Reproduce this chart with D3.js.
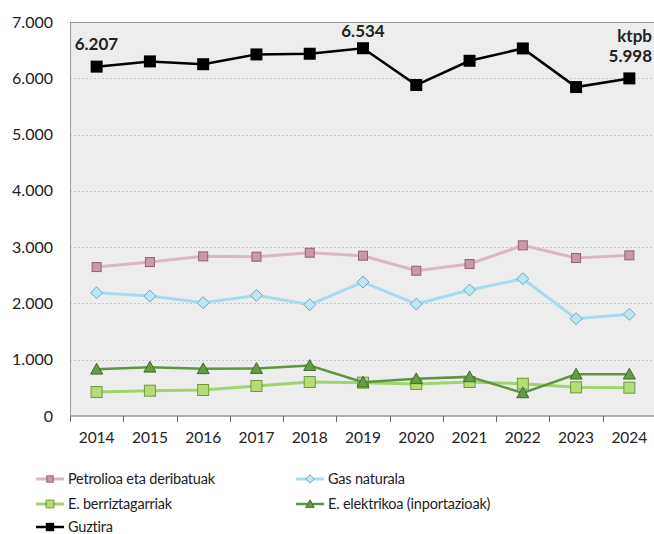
<!DOCTYPE html>
<html>
<head>
<meta charset="utf-8">
<script src="https://cdn.jsdelivr.net/npm/d3@7"></script>
<style>
  body { margin: 0; background: #fff; }
  text { font-family: Lato, "Open Sans", sans-serif; fill: #222; }
</style>
</head>
<body>
<svg width="654" height="534"></svg>
<script>
var years = ["2014", "2015", "2016", "2017", "2018", "2019", "2020", "2021", "2022", "2023", "2024"];
var petrolioa = [2646, 2735, 2836, 2830, 2901, 2848, 2581, 2700, 3032, 2806, 2854];
var gasa = [2190, 2131, 2013, 2143, 1977, 2380, 1989, 2238, 2439, 1728, 1806];
var berriztagarriak = [426, 450, 462, 533, 604, 592, 568, 604, 574, 509, 503];
var elektrikoa = [830, 865, 838, 842, 895, 600, 660, 695, 410, 742, 742];
var guztira = [6207, 6300, 6250, 6424, 6436, 6534, 5880, 6311, 6530, 5844, 5998];
var yTicks = [0, 1000, 2000, 3000, 4000, 5000, 6000, 7000];

var series = [
  { name: "Petrolioa eta deribatuak", values: petrolioa, line: "#dbb8c0", fill: "#c89aa6", stroke: "#8f6270", marker: "square", size: 4.5, w: 3 },
  { name: "Gas naturala", values: gasa, line: "#a9dbee", fill: "#bfe6f3", stroke: "#6fa8c0", marker: "diamond", size: 6, w: 3 },
  { name: "E. berriztagarriak", values: berriztagarriak, line: "#a3d36e", fill: "#b5dc78", stroke: "#6f9a3c", marker: "square", size: 5.5, w: 3 },
  { name: "E. elektrikoa (inportazioak)", values: elektrikoa, line: "#5f9442", fill: "#679c45", stroke: "#3f6a2a", marker: "triangle", size: 6, w: 2.5 },
  { name: "Guztira", values: guztira, line: "#000", fill: "#000", stroke: "#000", marker: "bigsquare", size: 6, w: 2.5 }
];

var svg = d3.select("svg");
var pLeft = 70, pRight = 656, pTop = 22, pBottom = 416;

var x = d3.scaleBand().domain(years).range([pLeft, pRight]);
var y = d3.scaleLinear().domain([0, 7000]).range([pBottom, pTop]);
var fmt = function(v) { return d3.format(",")(v).replace(/,/g, "."); };

// fondoa
svg.append("rect").attr("x", pLeft).attr("y", pTop)
  .attr("width", pRight - pLeft).attr("height", pBottom - pTop).attr("fill", "#ededed");

// sareta
svg.append("g").selectAll("line").data(yTicks.filter(function(d) { return d > 0 && d < 7000; }))
  .enter().append("line")
  .attr("x1", pLeft).attr("x2", pRight)
  .attr("y1", function(d) { return Math.round(y(d)) + 0.5; }).attr("y2", function(d) { return Math.round(y(d)) + 0.5; })
  .attr("stroke", "#c8c8c8").attr("stroke-dasharray", "2,2");

svg.append("line").attr("x1", pLeft).attr("x2", pRight).attr("y1", pTop + 0.5).attr("y2", pTop + 0.5)
  .attr("stroke", "#999");
svg.append("line").attr("x1", pLeft + 0.5).attr("x2", pLeft + 0.5).attr("y1", pTop).attr("y2", pBottom)
  .attr("stroke", "#999");

// ardatzak
svg.append("g").selectAll("text").data(yTicks).enter().append("text")
  .attr("x", 53).attr("y", function(d) { return y(d) + 5.5; })
  .attr("text-anchor", "end").attr("font-size", 16)
  .text(fmt);

var xAxis = svg.append("g").attr("transform", "translate(0," + pBottom + ")");
xAxis.append("line").attr("x1", pLeft).attr("x2", pRight).attr("stroke", "#999").attr("stroke-width", 1.5);
xAxis.selectAll(".tk").data(d3.range(years.length + 1)).enter().append("line")
  .attr("x1", function(i) { return Math.round(pLeft + i * x.step()) + 0.5; })
  .attr("x2", function(i) { return Math.round(pLeft + i * x.step()) + 0.5; })
  .attr("y1", 0).attr("y2", 6).attr("stroke", "#666");
xAxis.selectAll("text").data(years).enter().append("text")
  .attr("x", function(d) { return x(d) + x.bandwidth() / 2; })
  .attr("y", 27).attr("text-anchor", "middle").attr("font-size", 15.5)
  .text(function(d) { return d; });

function cx(i) { return x(years[i]) + x.bandwidth() / 2; }

function drawMarker(g, s, px, py, scale) {
  var k = scale || 1, r = s.size * k;
  if (s.marker === "square" || s.marker === "bigsquare") {
    g.append("rect").attr("x", px - r).attr("y", py - r).attr("width", 2 * r).attr("height", 2 * r)
      .attr("fill", s.fill).attr("stroke", s.stroke).attr("stroke-width", s.marker === "bigsquare" ? 0 : 1);
  } else if (s.marker === "diamond") {
    g.append("path").attr("d", "M" + px + "," + (py - r) + "L" + (px + r) + "," + py + "L" + px + "," + (py + r) + "L" + (px - r) + "," + py + "Z")
      .attr("fill", s.fill).attr("stroke", s.stroke).attr("stroke-width", 1);
  } else {
    g.append("path").attr("d", "M" + px + "," + (py - r) + "L" + (px + r) + "," + (py + r * 0.8) + "L" + (px - r) + "," + (py + r * 0.8) + "Z")
      .attr("fill", s.fill).attr("stroke", s.stroke).attr("stroke-width", 1);
  }
}

var line = d3.line().x(function(d, i) { return cx(i); }).y(function(d) { return y(d); });

series.forEach(function(s) {
  var g = svg.append("g");
  g.append("path").datum(s.values).attr("d", line)
    .attr("fill", "none").attr("stroke", s.line).attr("stroke-width", s.w);
  s.values.forEach(function(v, i) { drawMarker(g, s, cx(i), y(v)); });
});

// etiketak
var lbl = svg.append("g").attr("font-size", 17).attr("font-weight", "bold");
lbl.append("text").attr("x", cx(0) - 22).attr("y", y(guztira[0]) - 17).text(fmt(guztira[0]));
lbl.append("text").attr("x", cx(5)).attr("y", y(guztira[5]) - 11).attr("text-anchor", "middle").text(fmt(guztira[5]));
lbl.append("text").attr("x", 652).attr("y", 42).attr("text-anchor", "end").text("ktpb");
lbl.append("text").attr("x", 652).attr("y", y(guztira[10]) - 16).attr("text-anchor", "end").text(fmt(guztira[10]));

// legenda
var legPos = [[36, 479], [296, 479], [36, 504], [296, 504], [36, 527]];
series.forEach(function(s, i) {
  var g = svg.append("g");
  var lx = legPos[i][0], ly = legPos[i][1];
  g.append("line").attr("x1", lx).attr("x2", lx + 28).attr("y1", ly).attr("y2", ly)
    .attr("stroke", s.line).attr("stroke-width", s.w);
  drawMarker(g, s, lx + 14, ly, 0.7);
  g.append("text").attr("x", lx + 32).attr("y", ly + 5).attr("font-size", 14.5)
    .attr("letter-spacing", -0.2).text(s.name);
});
</script>
</body>
</html>
